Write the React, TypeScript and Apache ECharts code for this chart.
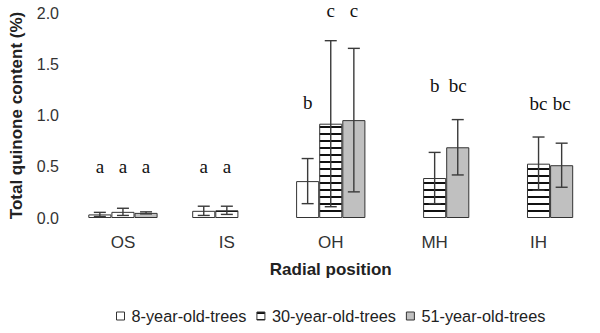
import React, { useEffect, useRef } from "react";
import * as echarts from "echarts";

const categories = ["OS", "IS", "OH", "MH", "IH"];
const seriesNames = ["8-year-old-trees", "30-year-old-trees", "51-year-old-trees"];

const values8 = [0.035, 0.07, 0.36, null, null];
const values30 = [0.06, 0.075, 0.92, 0.39, 0.53];
const values51 = [0.05, null, 0.955, 0.69, 0.515];

const err8 = [0.02, 0.045, 0.22, null, null];
const err30 = [0.035, 0.04, 0.81, 0.25, 0.26];
const err51 = [0.01, null, 0.7, 0.27, 0.215];

const letters8 = ["a", "a", "b", "", ""];
const letters30 = ["a", "a", "c", "b", "bc"];
const letters51 = ["a", "", "c", "bc", "bc"];

const letterY8 = [0.5, 0.5, 1.13, null, null];
const letterY30 = [0.5, 0.5, 2.02, 1.29, 1.12];
const letterY51 = [0.5, null, 2.02, 1.29, 1.12];

const yTicks = [0, 0.5, 1.0, 1.5, 2.0];

const GAP = 0.333;

const allValues = [values8, values30, values51];
const allErr = [err8, err30, err51];
const allLetters = [letters8, letters30, letters51];
const allLetterY = [letterY8, letterY30, letterY51];

const errData: number[][] = [];
allValues.forEach((vals, s) => {
  vals.forEach((v, c) => {
    const e = allErr[s][c];
    if (v != null && e != null) errData.push([c, v, e, s]);
  });
});

const letterItems: { c: number; y: number; s: number; t: string }[] = [];
allLetters.forEach((ls, s) => {
  ls.forEach((t, c) => {
    const y = allLetterY[s][c];
    if (t && y != null) letterItems.push({ c, y, s, t });
  });
});

function makeHatch(): any {
  const cv = document.createElement("canvas");
  cv.width = 8;
  cv.height = 7;
  const ctx = cv.getContext("2d")!;
  ctx.fillStyle = "#ffffff";
  ctx.fillRect(0, 0, 8, 7);
  ctx.fillStyle = "#111111";
  ctx.fillRect(0, 0, 8, 2);
  return { image: cv, repeat: "repeat" };
}

export default function App() {
  const ref = useRef<HTMLDivElement>(null);
  useEffect(() => {
    if (!ref.current) return;
    const chart = echarts.init(ref.current, null, { renderer: "svg" });
    const hatch = makeHatch();
    const fills = ["#ffffff", hatch, "#c0c0c0"];
    const font = "'Liberation Sans', Arial, sans-serif";
    const barSeries = allValues.map((vals, s) => ({
      name: seriesNames[s],
      type: "bar",
      data: vals,
      barGap: "0%",
      barCategoryGap: GAP * 100 + "%",
      itemStyle: { color: fills[s], borderColor: "#333333", borderWidth: 1 },
      emphasis: { disabled: true },
    }));
    const option: any = {
      animation: false,
      backgroundColor: "#ffffff",
      textStyle: { fontFamily: font },
      grid: { left: 65, right: 9.5, top: 13, bottom: 115, containLabel: false },
      legend: {
        data: seriesNames,
        left: 111,
        top: 303,
        itemWidth: 8,
        itemHeight: 8,
        itemGap: 10,
        icon: "rect",
        itemStyle: { borderColor: "#333333", borderWidth: 1 },
        textStyle: { fontSize: 16.3, color: "#222222", fontFamily: font, padding: [0, 0, 0, 2] },
      },
      xAxis: {
        type: "category",
        data: categories,
        axisLine: { show: false },
        axisTick: { show: false },
        axisLabel: { fontSize: 17, color: "#333333", margin: 16, fontFamily: font },
        name: "Radial position",
        nameLocation: "middle",
        nameGap: 43,
        nameTextStyle: { fontSize: 17, fontWeight: "bold", color: "#222222", fontFamily: font },
      },
      yAxis: {
        type: "value",
        min: yTicks[0],
        max: yTicks[yTicks.length - 1],
        interval: 0.5,
        axisLine: { show: false },
        axisTick: { show: false },
        splitLine: { show: false },
        axisLabel: {
          fontSize: 16,
          color: "#333333",
          margin: 12,
          fontFamily: font,
          formatter: (v: number) => v.toFixed(1),
        },
        name: "Total quinone content (%)",
        nameLocation: "middle",
        nameGap: 46,
        nameTextStyle: { fontSize: 17, fontWeight: "bold", color: "#222222", fontFamily: font },
      },
      series: [
        ...barSeries,
        {
          type: "custom",
          data: errData,
          z: 5,
          silent: true,
          renderItem: (params: any, api: any) => {
            const c = api.value(0);
            const v = api.value(1);
            const e = api.value(2);
            const s = api.value(3);
            const band = api.size([1, 0])[0];
            const barW = (band * (1 - GAP)) / 3;
            const p = api.coord([c, v]);
            const x = p[0] + (s - 1) * barW;
            const yt = api.coord([c, v + e])[1];
            const yb = api.coord([c, v - e])[1];
            const st = { stroke: "#3a3a3a", lineWidth: 1.4 };
            const hw = 6;
            return {
              type: "group",
              children: [
                { type: "line", shape: { x1: x, y1: yt, x2: x, y2: yb }, style: st },
                { type: "line", shape: { x1: x - hw, y1: yt, x2: x + hw, y2: yt }, style: st },
                { type: "line", shape: { x1: x - hw, y1: yb, x2: x + hw, y2: yb }, style: st },
              ],
            };
          },
        },
        {
          type: "custom",
          data: letterItems.map((it) => [it.c, it.y, it.s]),
          z: 6,
          silent: true,
          clip: false,
          renderItem: (params: any, api: any) => {
            const it = letterItems[params.dataIndex];
            const band = api.size([1, 0])[0];
            const barW = (band * (1 - GAP)) / 3;
            const p = api.coord([it.c, it.y]);
            return {
              type: "text",
              x: p[0] + (it.s - 1) * barW,
              y: p[1],
              style: {
                text: it.t,
                fontSize: 19,
                fontFamily: "'Liberation Serif', 'Times New Roman', serif",
                fill: "#111111",
                align: "center",
                verticalAlign: "middle",
              },
            };
          },
        },
      ],
    };
    chart.setOption(option);
    return () => chart.dispose();
  }, []);
  return (
    <div
      ref={ref}
      style={{ position: "fixed", left: 0, top: 0, width: 600, height: 333, background: "#fff" }}
    />
  );
}
